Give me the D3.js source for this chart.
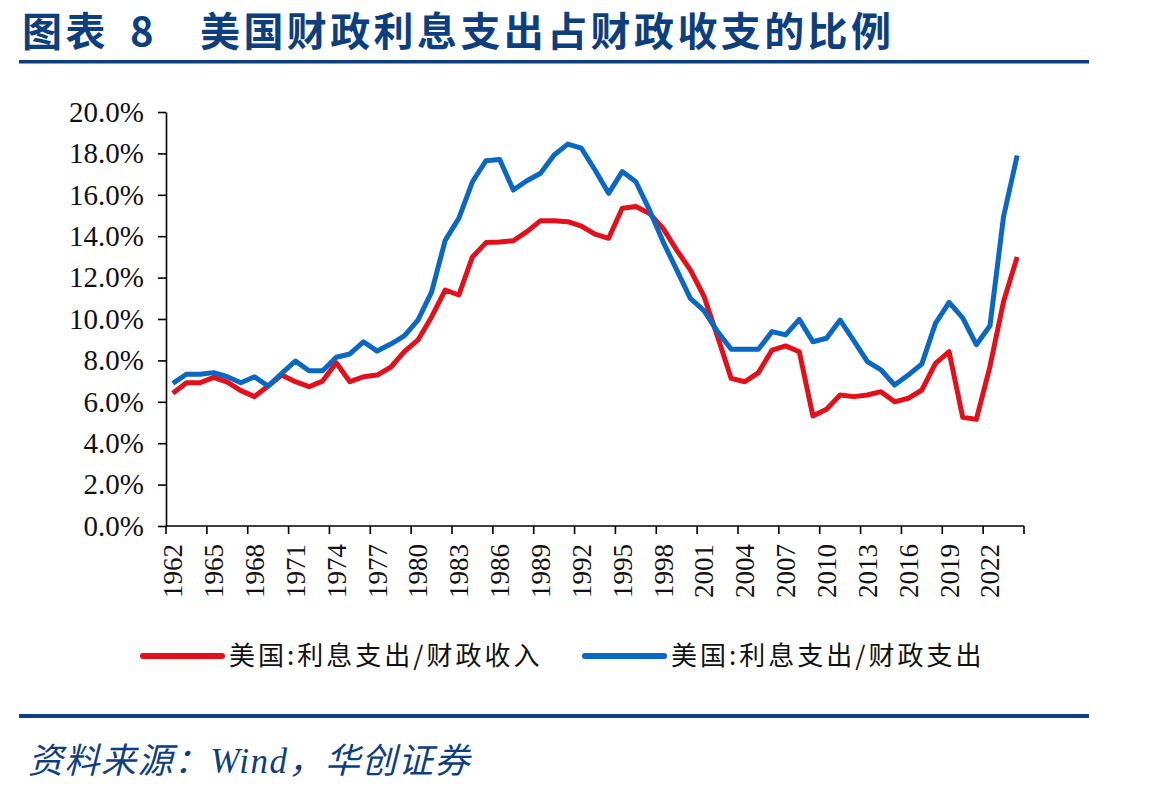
<!DOCTYPE html>
<html>
<head>
<meta charset="utf-8">
<script src="https://cdn.jsdelivr.net/npm/d3@7"></script>
<style>
  body { margin: 0; background: #fff; }
  svg { display: block; }
</style>
</head>
<body>
<div id="app"></div>
<script>
// data (%)
const years = d3.range(1962, 2025);
const interestToRevenue = [6.41, 6.92, 6.92, 7.18, 6.95, 6.54, 6.25, 6.76, 7.29, 6.97,
  6.73, 7.0, 7.89, 6.97, 7.21, 7.29, 7.67, 8.42, 8.99, 10.1,
  11.4, 11.16, 13.0, 13.69, 13.72, 13.78, 14.22, 14.75, 14.75, 14.7,
  14.49, 14.1, 13.9, 15.35, 15.43, 15.1, 14.38, 13.33, 12.37, 11.1,
  9.15, 7.13, 6.97, 7.41, 8.5, 8.7, 8.42, 5.31, 5.64, 6.33,
  6.25, 6.33, 6.49, 6.0, 6.17, 6.57, 7.86, 8.42, 5.25, 5.15,
  7.7, 10.85, 13.0];
const interestToSpending = [6.89, 7.33, 7.33, 7.41, 7.21, 6.92, 7.21, 6.76, 7.37, 7.97,
  7.5, 7.5, 8.15, 8.31, 8.9, 8.45, 8.79, 9.18, 9.95, 11.3,
  13.8, 14.86, 16.63, 17.65, 17.71, 16.23, 16.68, 17.04, 17.92, 18.45,
  18.25, 17.2, 16.07, 17.12, 16.63, 15.27, 13.73, 12.37, 11.0, 10.4,
  9.39, 8.54, 8.54, 8.54, 9.39, 9.23, 9.98, 8.9, 9.07, 9.95,
  8.95, 7.94, 7.54, 6.81, 7.29, 7.83, 9.79, 10.8, 10.05, 8.76,
  9.67, 14.95, 17.9];
const yTicks = d3.range(0, 21, 2);
const seriesNames = ["美国:利息支出/财政收入", "美国:利息支出/财政支出"];
const seriesColors = ["#e50f1a", "#0868c4"];

const W = 1149, H = 792;
const plot = { left: 166, right: 1024, top: 112, bottom: 526 };
const navy = "#0d3f7f";

const svg = d3.select("#app").append("svg")
  .attr("width", W).attr("height", H);

/* title + rules */
const titleFont = "'Noto Sans CJK SC'";
[["图表", 22], ["8", 130], ["美国财政利息支出占财政收支的比例", 200]].forEach(([t, tx]) => {
  svg.append("text")
    .attr("x", tx).attr("y", 46)
    .attr("fill", navy)
    .attr("font-family", titleFont)
    .attr("font-weight", 700)
    .attr("font-size", 40)
    .attr("letter-spacing", 3.4)
    .text(t);
});

svg.append("rect").attr("x", 19).attr("y", 60).attr("width", 1070).attr("height", 3.5).attr("fill", navy);
svg.append("rect").attr("x", 19).attr("y", 714).attr("width", 1070).attr("height", 4).attr("fill", navy);

svg.append("text")
  .attr("x", 28).attr("y", 773)
  .attr("fill", navy)
  .attr("font-family", "'Liberation Serif','Noto Sans CJK SC'")
  .attr("font-style", "italic")
  .attr("font-size", 35)
  .attr("letter-spacing", 1.5)
  .text("资料来源：Wind，华创证券");

/* scales */
const x = d3.scaleBand().domain(years).range([plot.left, plot.right]).padding(0);
const y = d3.scaleLinear().domain([0, 20]).range([plot.bottom, plot.top]);
const cx = d => x(d) + x.bandwidth() / 2;

/* y axis */
const yAxis = svg.append("g")
  .attr("transform", `translate(${plot.left},0)`)
  .call(d3.axisLeft(y).tickValues(yTicks).tickSize(8).tickSizeOuter(0)
    .tickFormat(d => d3.format(".1f")(d) + "%"));
yAxis.select(".domain").attr("stroke", "#000").attr("stroke-width", 1.6);
yAxis.selectAll(".tick line").attr("stroke", "#000").attr("stroke-width", 1.6);
yAxis.selectAll(".tick text")
  .attr("x", -22)
  .attr("font-family", "'Liberation Serif'")
  .attr("font-size", 29)
  .attr("fill", "#111");

/* x axis: ticks on category boundaries every 3 years, labels at centres */
const xg = svg.append("g").attr("transform", `translate(0,${plot.bottom})`);
xg.append("line")
  .attr("x1", plot.left).attr("x2", plot.right)
  .attr("stroke", "#000").attr("stroke-width", 1.6);
const boundaries = d3.range(0, years.length + 1, 3);
xg.selectAll("line.tk").data(boundaries).enter().append("line")
  .attr("class", "tk")
  .attr("x1", i => plot.left + i * x.bandwidth())
  .attr("x2", i => plot.left + i * x.bandwidth())
  .attr("y1", 0).attr("y2", 8)
  .attr("stroke", "#000").attr("stroke-width", 1.6);
xg.selectAll("text").data(years.filter((d, i) => i % 3 === 0)).enter().append("text")
  .attr("transform", d => `translate(${cx(d)},18) rotate(-90)`)
  .attr("text-anchor", "end")
  .attr("dy", "0.35em")
  .attr("font-family", "'Liberation Serif'")
  .attr("font-size", 27)
  .attr("fill", "#111")
  .text(d => d);

/* lines */
const line = d3.line().x((d, i) => cx(years[i])).y(d => y(d));
[interestToRevenue, interestToSpending].forEach((vals, k) => {
  svg.append("path")
    .datum(vals)
    .attr("d", line)
    .attr("fill", "none")
    .attr("stroke", seriesColors[k])
    .attr("stroke-width", 5)
    .attr("stroke-linejoin", "round");
});

/* legend */
const legendX = [143, 585];
seriesNames.forEach((name, k) => {
  const g = svg.append("g").attr("transform", `translate(${legendX[k]},656)`);
  g.append("line").attr("x1", 0).attr("x2", 79)
    .attr("stroke", seriesColors[k]).attr("stroke-width", 6).attr("stroke-linecap", "round");
  g.append("text")
    .attr("x", 86).attr("dy", "0.36em")
    .attr("font-family", "'Noto Sans CJK SC'")
    .attr("font-size", 26)
    .attr("letter-spacing", 3)
    .attr("fill", "#111")
    .text(name);
});
</script>
</body>
</html>
